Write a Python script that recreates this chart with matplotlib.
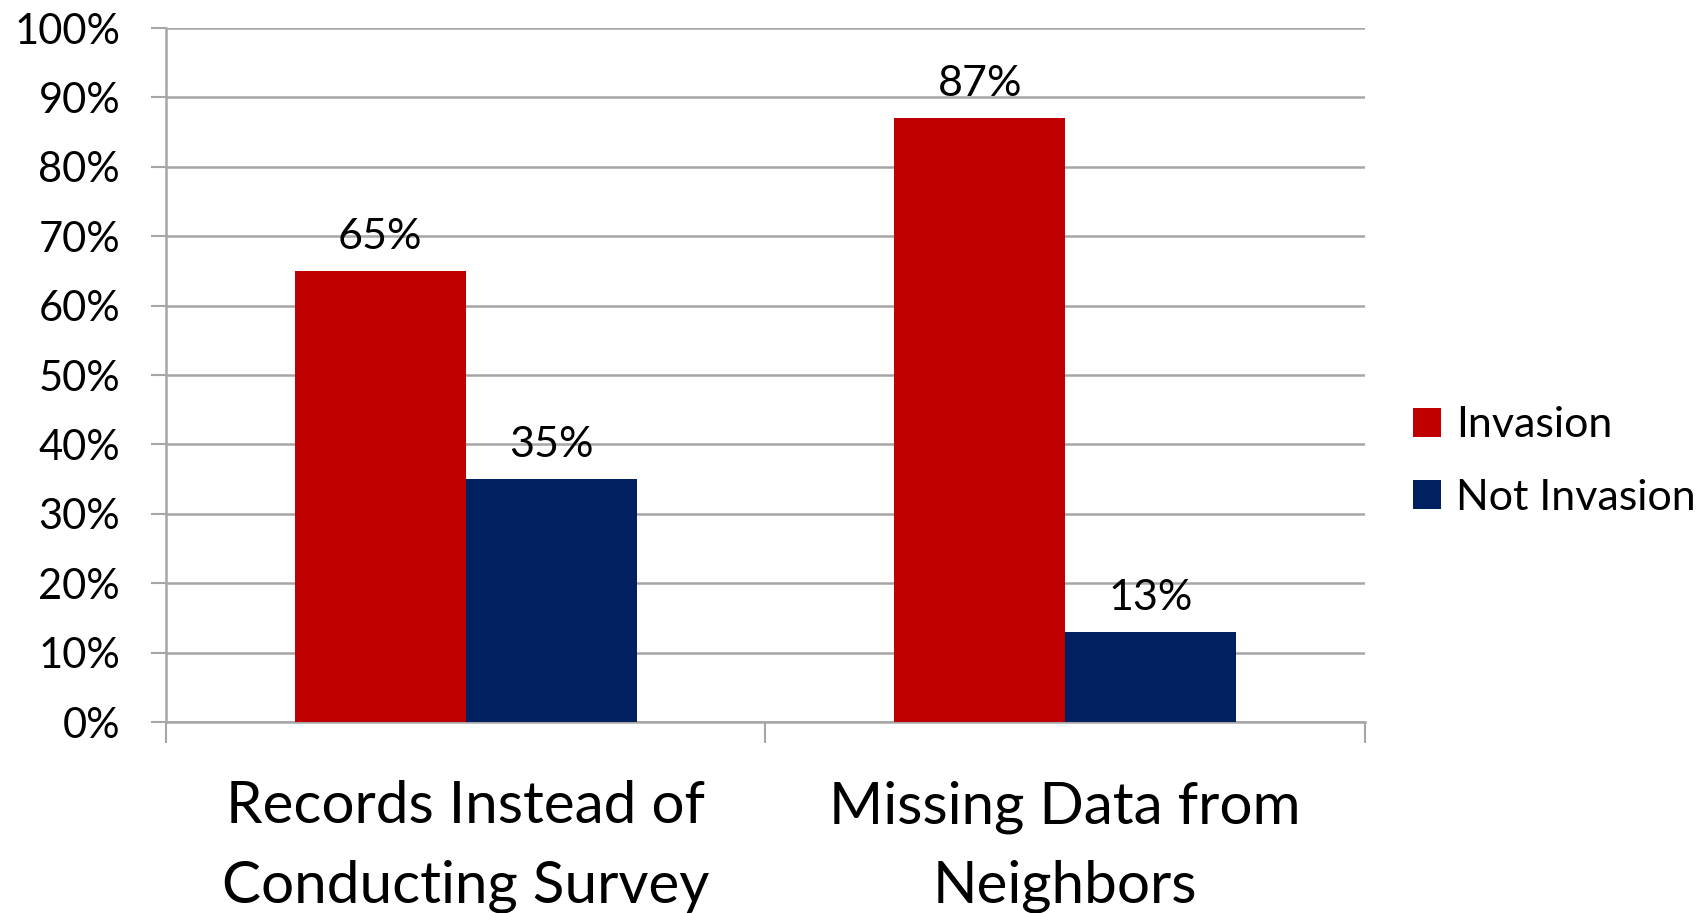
import matplotlib.pyplot as plt
import numpy as np

categories = ['Records Instead of\nConducting Survey', 'Missing Data from\nNeighbors']
invasion = [65, 87]
not_invasion = [35, 13]
series_names = ['Invasion', 'Not Invasion']
colors = ['#C00000', '#002060']

plt.rcParams['font.family'] = ['Lato', 'DejaVu Sans']

fig = plt.figure(figsize=(17.04, 9.13), dpi=100)
ax = fig.add_axes([0.0974, 0.2092, 0.7036, 0.7601])

x = np.arange(len(categories))
w = 0.285
b1 = ax.bar(x - w / 2, invasion, w, color=colors[0], label=series_names[0], zorder=3)
b2 = ax.bar(x + w / 2, not_invasion, w, color=colors[1], label=series_names[1], zorder=3)

for bars in (b1, b2):
    for r in bars:
        ax.annotate('%d%%' % r.get_height(), (r.get_x() + r.get_width() / 2, r.get_height()),
                    xytext=(0, 11), textcoords='offset points', ha='center', va='bottom',
                    fontsize=31)

ax.set_xlim(-0.5, 1.5)
ax.set_ylim(0, 100)
ax.set_yticks(np.arange(0, 101, 10))
ax.set_yticklabels(['%d%%' % v for v in range(0, 101, 10)], fontsize=30)
ax.yaxis.grid(True, color='#A6A6A6', linewidth=1.8, zorder=0)
ax.tick_params(axis='y', length=11, width=1.5, color='#A6A6A6', pad=22)

ax.set_xticks(x)
ax.set_xticklabels(categories, fontsize=42, linespacing=1.6)
ax.set_xticks([-0.5, 0.5, 1.5], minor=True)
ax.tick_params(axis='x', which='major', length=0, pad=42)
ax.tick_params(axis='x', which='minor', length=15, width=1.5, color='#A6A6A6')

for s in ['top', 'right']:
    ax.spines[s].set_visible(False)
for s in ['left', 'bottom']:
    ax.spines[s].set_color('#A6A6A6')
    ax.spines[s].set_linewidth(1.8)

fig.legend(handles=[b1, b2], labels=series_names, loc='center left',
           bbox_to_anchor=(0.829, 0.4945), frameon=False, fontsize=31,
           borderpad=0, borderaxespad=0,
           handlelength=0.65, handleheight=0.65, handletextpad=0.35, labelspacing=0.8)

fig.savefig('out.png', dpi=100)
